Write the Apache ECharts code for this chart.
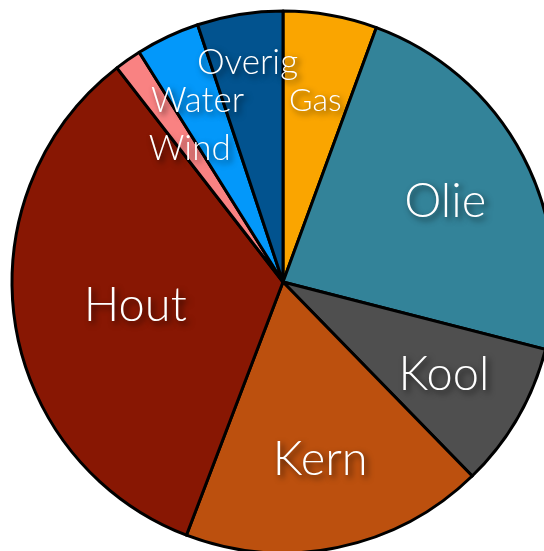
<!DOCTYPE html>
<html>
<head>
<meta charset="utf-8">
<script src="https://cdn.jsdelivr.net/npm/echarts@6/dist/echarts.min.js"></script>
<style>
  html, body { margin: 0; padding: 0; background: #ffffff; }
  #chart { width: 544px; height: 551px; }
</style>
</head>
<body>
<div id="chart"></div>
<script>
// Data (percent share, clockwise from 12 o'clock)
var categories = ['Gas', 'Olie', 'Kool', 'Kern', 'Hout', 'Wind', 'Water', 'Overig'];
var values = [5.6, 23.4, 8.7, 18.1, 33.7, 1.6, 3.8, 5.1];

// Styling (not data)
var colors = ['#FAA500', '#338399', '#4F4F4F', '#BC500E', '#881703', '#F98282', '#0398FA', '#02538F'];
var labelRadiusFrac = [0.67, 0.665, 0.675, 0.665, 0.54, 0.59, 0.73, 0.81];
var labelNudgeY = [0, 5, 0, -2, 2, 0, 0, 0];
var labelSize = [32, 47, 47, 47, 47, 35, 35, 35];

var R = 271;
var CX = 283, CY = 282;

var total = values.reduce(function (a, b) { return a + b; }, 0);
var cum = 0;
var seriesData = categories.map(function (name, i) {
  var mid = (cum + values[i] / 2) / total * 2 * Math.PI;
  cum += values[i];
  var extra = (labelRadiusFrac[i] - 0.5) * R;
  return {
    name: name,
    value: values[i],
    itemStyle: { color: colors[i] },
    label: {
      fontSize: labelSize[i],
      offset: [extra * Math.sin(mid), -extra * Math.cos(mid) + labelNudgeY[i]]
    }
  };
});

var chart = echarts.init(document.getElementById('chart'), null, { renderer: 'canvas' });
chart.setOption({
  animation: false,
  series: [{
    type: 'pie',
    center: [CX, CY],
    radius: [0, R],
    startAngle: 90,
    clockwise: true,
    avoidLabelOverlap: false,
    itemStyle: { borderColor: '#000000', borderWidth: 3 },
    label: {
      show: true,
      position: 'inside',
      formatter: '{b}',
      color: '#ffffff',
      fontFamily: 'Lato',
      fontWeight: 300,
      textBorderWidth: 0,
      textShadowColor: 'rgba(0,0,0,0.7)',
      textShadowBlur: 6,
      textShadowOffsetX: 3,
      textShadowOffsetY: 3
    },
    labelLine: { show: false },
    emphasis: { disabled: true },
    data: seriesData
  }]
});
</script>
</body>
</html>
